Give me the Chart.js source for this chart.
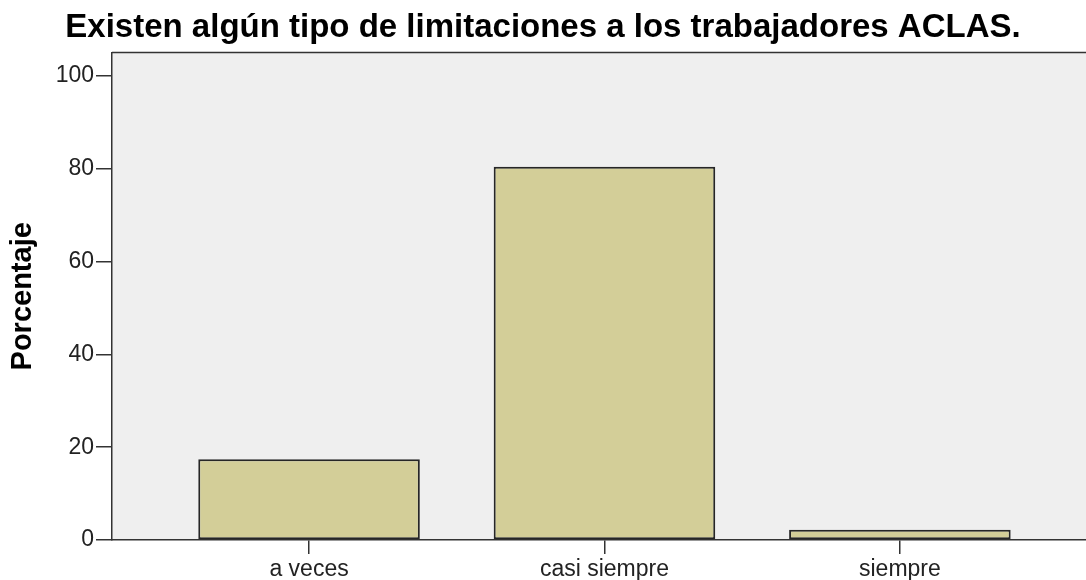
<!DOCTYPE html>
<html>
<head>
<meta charset="utf-8">
<script src="https://cdn.jsdelivr.net/npm/chart.js@4"></script>
<style>
  body { margin: 0; background: #fff; }
  #wrap { width: 1086px; height: 580px; }
</style>
</head>
<body>
<div id="wrap"><canvas id="grafico"></canvas></div>
<script>
const categorias = ["a veces", "casi siempre", "siempre"];
const porcentajes = [17.4, 80.4, 2.2];
const ticksY = [0, 20, 40, 60, 80, 100];

// fondo gris del area y borde superior
const fondoArea = {
    id: 'fondoArea',
    beforeDraw(chart) {
        const { ctx, chartArea: a } = chart;
        ctx.save();
        ctx.fillStyle = '#efefef';
        ctx.fillRect(a.left, a.top, a.right - a.left, a.bottom - a.top);
        ctx.strokeStyle = '#333';
        ctx.lineWidth = 1.5;
        ctx.beginPath();
        ctx.moveTo(a.left, a.top);
        ctx.lineTo(a.right, a.top);
        ctx.stroke();
        ctx.restore();
    }
};

const ctx = document.getElementById('grafico').getContext('2d');
new Chart(ctx, {
    type: 'bar',
    data: {
        datasets: [{
            label: 'Porcentaje',
            data: categorias.map((c, i) => ({ x: i, y: porcentajes[i] })),
            backgroundColor: '#d3ce98',
            borderColor: '#262626',
            borderWidth: 2,
            borderSkipped: false,
            categoryPercentage: 1,
            barPercentage: 0.75
        }]
    },
    options: {
        responsive: true,
        maintainAspectRatio: false,
        animation: false,
        layout: { padding: 0 },
        plugins: {
            legend: { display: false },
            tooltip: { enabled: false },
            title: {
                display: true,
                text: 'Existen algún tipo de limitaciones a los trabajadores ACLAS.',
                color: '#000',
                font: { family: 'Liberation Sans', size: 33, weight: 'bold' },
                padding: { top: 8, bottom: 5 }
            }
        },
        scales: {
            x: {
                type: 'linear',
                offset: false,
                min: -0.667,
                max: 2.63,
                afterBuildTicks: (scale) => {
                    scale.ticks = categorias.map((c, i) => ({ value: i }));
                },
                afterFit: (scale) => { scale.height = 40; },
                ticks: {
                    autoSkip: false,
                    maxRotation: 0,
                    padding: 2,
                    color: '#222',
                    font: { family: 'Liberation Sans', size: 23 },
                    callback: (v) => categorias[v]
                },
                grid: {
                    offset: false,
                    drawOnChartArea: false,
                    drawTicks: true,
                    tickLength: 14,
                    color: '#333',
                    lineWidth: 1.5
                },
                border: { color: '#333', width: 1.5 }
            },
            y: {
                min: 0,
                max: 105,
                afterBuildTicks: (scale) => {
                    scale.ticks = ticksY.map(v => ({ value: v }));
                },
                afterFit: (scale) => { scale.width = 112; },
                ticks: {
                    padding: 2,
                    color: '#222',
                    font: { family: 'Liberation Sans', size: 23 }
                },
                grid: {
                    drawOnChartArea: false,
                    drawTicks: true,
                    tickLength: 16,
                    color: '#333',
                    lineWidth: 1.5
                },
                border: { color: '#333', width: 1.5 },
                title: {
                    display: true,
                    text: 'Porcentaje',
                    color: '#000',
                    font: { family: 'Liberation Sans', size: 29, weight: 'bold' },
                    padding: { top: 6, bottom: 0 }
                }
            }
        }
    },
    plugins: [fondoArea]
});
</script>
</body>
</html>
